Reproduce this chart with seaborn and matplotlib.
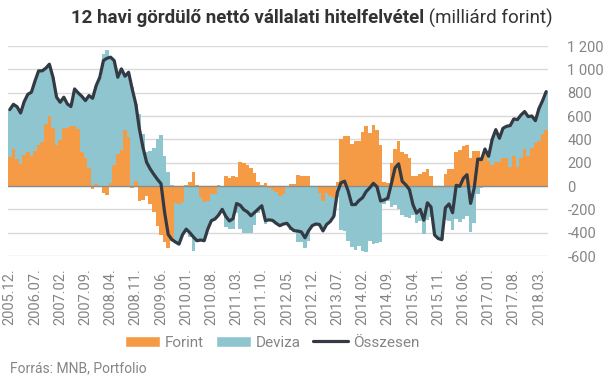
import numpy as np
import pandas as pd
import matplotlib
matplotlib.use('Agg')
import matplotlib.pyplot as plt
import seaborn as sns
from matplotlib.patches import Patch
from matplotlib.lines import Line2D
from matplotlib.ticker import FuncFormatter, MultipleLocator

# monthly data, 2005.12 - 2018.05 (milliárd forint)
forint = [252, 317, 232, 189, 266, 289, 255, 300, 352, 375,
          529, 598, 495, 352, 392, 495, 495, 512, 512, 489,
          289, 237, 152, -23, 14, 0, -60, -74, 26, 180,
          272, 306, 480, 420, -14, 46, -126, -117, -89, -152,
          -226, -346, -420, -483, -535, -470, -146, -150, -140, 11,
          37, 123, 11, -97, -140, -126, -69, -69, 11, 0,
          89, 72, 89, 80, 203, 197, 180, 152, 112, 31,
          11, 26, -20, -31, -49, -89, -65, 0, 14, 14,
          94, 86, 86, 86, -11, 0, -60, -126, -60, -83,
          -106, 37, 403, 426, 426, 360, 386, 386, 460, 518,
          455, 523, 483, 352, 31, 26, 200, 320, 386, 289,
          275, 240, 89, 89, 100, 117, 146, 89, -20, 0,
          0, 103, 146, 146, 289, 309, 346, 352, 243, 300,
          300, 246, 303, 217, 180, 203, 203, 237, 237, 160,
          255, 166, 237, 317, 260, 329, 369, 389, 446, 483]

deviza = [403, 383, 448, 437, 457, 497, 549, 600, 635, 612,
          481, 446, 437, 409, 326, 266, 208, 169, 320, 309,
          480, 495, 623, 775, 847, 932, 1135, 1169, 1078, 895,
          660, 698, 461, 555, 846, 657, 615, 447, 292, 298,
          326, 403, 440, 257, 120, 11, -334, -348, -276, -381,
          -437, -560, -480, -366, -329, -243, -228, -214, -260, -200,
          -349, -372, -369, -230, -368, -400, -402, -407, -338, -228,
          -180, -323, -270, -264, -271, -251, -261, -320, -374, -397,
          -480, -480, -530, -470, -329, -326, -270, -259, -270, -222,
          -154, -90, -375, -385, -470, -520, -545, -510, -560, -565,
          -470, -500, -490, -480, -150, -130, -180, -165, -196, -249,
          -265, -270, -250, -321, -300, -410, -290, -269, -400, -450,
          -460, -290, -300, -375, -283, -312, -280, -255, -392, -317,
          -69, -20, 14, 38, 220, 280, 206, 258, 275, 358,
          320, 403, 372, 321, 335, 271, 191, 276, 286, 326]

tick_labels = ['2005.12.', '2006.07.', '2007.02.', '2007.09.', '2008.04.', '2008.11.',
               '2009.06.', '2010.01.', '2010.08.', '2011.03.', '2011.10.', '2012.05.',
               '2012.12.', '2013.07.', '2014.02.', '2014.09.', '2015.04.', '2015.11.',
               '2016.06.', '2017.01.', '2017.08.', '2018.03.']

ORANGE = '#F59B45'
TEAL = '#8EC5CE'
LINE = '#333A44'
GREY = '#858585'

df = pd.DataFrame({'Forint': forint, 'Deviza': deviza})
df['idx'] = np.arange(len(df))
df['Összesen'] = df['Forint'] + df['Deviza']

# excel-style stacking: positives stack up, negatives stack down
f = df['Forint'].values
d = df['Deviza'].values
d_bottom = np.where(d >= 0, np.clip(f, 0, None), np.clip(f, None, 0))

sns.set_theme(style='white')
plt.rcParams['font.family'] = ['Roboto', 'DejaVu Sans']

fig = plt.figure(figsize=(6.05, 3.78), dpi=100)
ax = fig.add_axes([8 / 605, 1 - 256 / 378, 540 / 605, 210 / 378])

ax.bar(df['idx'], f, width=1.0, color=ORANGE, linewidth=0, zorder=2)
ax.bar(df['idx'], d, bottom=d_bottom, width=1.0, color=TEAL, linewidth=0, zorder=2)
ax.axhline(0, color='#8c8c8c', lw=1.0, zorder=3)
sns.lineplot(data=df, x='idx', y='Összesen', color=LINE, lw=2.3, ax=ax, zorder=4)

ax.set_xlim(-0.5, len(df) - 0.5)
ax.set_ylim(-600, 1200)
ax.yaxis.set_major_locator(MultipleLocator(200))
ax.yaxis.set_major_formatter(FuncFormatter(lambda v, p: f'{v:,.0f}'.replace(',', ' ')))
ax.yaxis.tick_right()
ax.grid(axis='y', color='#d9d9d9', lw=1.0)
ax.set_axisbelow(True)
for s in ax.spines.values():
    s.set_visible(False)

ax.set_xticks(np.arange(0, len(df), 7)[:len(tick_labels)])
ax.set_xticklabels(tick_labels, rotation=90)
ax.tick_params(axis='x', length=0, pad=9, labelsize=10.5, labelcolor=GREY)
ax.tick_params(axis='y', length=0, pad=14, labelsize=10.5, labelcolor=GREY)
for lab in ax.get_yticklabels():
    lab.set_ha('left')
ax.set_xlabel('')
ax.set_ylabel('')

handles = [Patch(facecolor=ORANGE, label='Forint'),
           Patch(facecolor=TEAL, label='Deviza'),
           Line2D([0], [0], color=LINE, lw=2.3, label='Összesen')]
fig.legend(handles=handles, loc='center', bbox_to_anchor=(0.45, 0.093), ncol=3,
           frameon=False, fontsize=11, labelcolor=GREY, handlelength=2.3,
           handleheight=0.8, handletextpad=0.3, columnspacing=0.8)

fig.text(10 / 605, 1 - 368 / 378, 'Forrás: MNB, Portfolio', fontsize=10, color=GREY,
         va='center', ha='left')

# title: bold part + normal part, centred together
bold_txt = '12 havi gördülő nettó vállalati hitelfelvétel'
norm_txt = ' (milliárd forint)'
ty = 1 - 18 / 378
t1 = fig.text(0, ty, bold_txt, fontsize=13.5, fontweight='bold', color='#333333', va='center')
t2 = fig.text(0, ty, norm_txt, fontsize=13.5, color='#333333', va='center')
fig.canvas.draw()
r = fig.canvas.get_renderer()
w1 = t1.get_window_extent(r).width
w2 = t2.get_window_extent(r).width
x0 = 312 - (w1 + w2) / 2
t1.set_x(x0 / 605)
t2.set_x((x0 + w1) / 605)

fig.savefig('out.png', dpi=100)
